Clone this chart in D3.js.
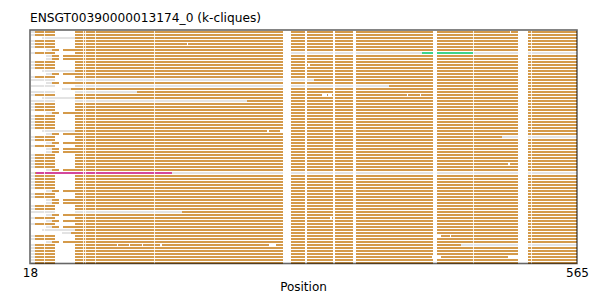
<!DOCTYPE html>
<html>
<head>
<meta charset="utf-8">
<script src="https://cdn.jsdelivr.net/npm/d3@7"></script>
<style>
  body { margin: 0; background: #fff; }
  svg text { font-family: "DejaVu Sans", sans-serif; fill: #000; }
</style>
</head>
<body>
<svg id="chart"></svg>
<script>
var width = 607;
var height = 294;

// one letter per sequence row, top to bottom (A: starts ~19, B: starts ~34, C: starts ~30, D: starts ~50, E: like A without the early gap)
var rowTypes = ["A","A","C","A","A","A","B","A","B","B",
                "A","A","A","C","B","A","A","B","A","D",
                "A","A","C","A","A","A","A","B","A","A",
                "A","A","A","C","B","A","A","B","A","B",
                "B","A","A","A","A","A","B","E","A","A",
                "A","A","A","B","A","A","B","B","A","A",
                "A","B","A","B","A","B","C","D","A","A",
                "B","A","A","A","A","A","A","A"];

// sequence start, clique start and gaps of each left pattern
var patternSeq = {A: 19, B: 34, C: 30, D: 50, E: 19};
var patternClique = {A: 23, B: 40, C: 63, D: 59, E: 23};
var patternGaps = {A: [[43, 63]], B: [[47, 51]], C: [], D: [], E: []};

var seqEnd = 565;

// alignment gaps shared by every row
var commonGaps = [[32,33],[71,72],[73,74],[83,84],[142,143],[271,279],[293,295],
                  [321,323],[341,344],[421,425],[461,462],[506,516],[519,520]];

// segments painted over the default clique colour: [row, from, to, kind]
var overrides = [
  [7, 279, 410, "none"], [7, 410, 461, "green"], [7, 461, 565, "none"],
  [16, 19, 302, "none"],
  [18, 19, 377, "none"],
  [20, 19, 125, "none"],
  [23, 19, 235, "none"],
  [35, 490, 565, "none"],
  [47, 24, 160, "magenta"], [47, 160, 565, "none"],
  [60, 19, 170, "none"],
  [71, 449, 565, "none"]
];

// a few row-specific gaps: [row, from, to]
var extraGaps = [
  [4, 175, 176], [11, 296, 298], [21, 310, 315], [21, 316, 320], [21, 395, 396], [21, 408, 409],
  [33, 255, 257], [33, 268, 271], [68, 421, 429], [68, 438, 439],
  [71, 105, 106], [71, 117, 118], [71, 130, 131], [71, 148, 150], [71, 257, 264],
  [75, 420, 429], [75, 496, 506], [0, 498, 499], [62, 318, 320], [44, 496, 498]
];

var xTicks = [18, 565];

var colors = {clique: "#d49a4a", none: "#e3e3e3", green: "#3dd48a", magenta: "#d4479b"};

var svg = d3.select('#chart')
    .attr('width', width)
    .attr('height', height);

var x = d3.scaleLinear()
    .domain([18, 565])
    .range([30, 577]);

var y = d3.scaleLinear()
    .domain([0, rowTypes.length - 1])
    .range([32, 263]);

var barH = 2;

function seg(g, row, from, to, color, op) {
    g.append('rect')
        .attr('x', x(from))
        .attr('y', y(row) - barH / 2)
        .attr('width', Math.max(0, x(to) - x(from)))
        .attr('height', barH)
        .attr('fill', color)
        .attr('fill-opacity', op == null ? 1 : op)
        .attr('shape-rendering', 'crispEdges');
}

var rowsG = svg.append('g');

rowTypes.forEach(function(t, i) {
    seg(rowsG, i, patternSeq[t], seqEnd, colors.none);
    seg(rowsG, i, patternClique[t], seqEnd, colors.clique);
});

overrides.forEach(function(o) {
    seg(rowsG, o[0], o[1], o[2], colors[o[3]]);
});

// thin one-position gaps come out a little softer, like the antialiased original
function gapOpacity(gp) {
    return (gp[1] - gp[0]) <= 1 ? 0.8 : 1;
}

rowTypes.forEach(function(t, i) {
    commonGaps.concat(patternGaps[t]).forEach(function(gp) {
        seg(rowsG, i, gp[0], gp[1], '#fff', gapOpacity(gp));
    });
});

extraGaps.forEach(function(gp) {
    seg(rowsG, gp[0], gp[1], gp[2], '#fff');
});

// frame
svg.append('rect')
    .attr('x', 30)
    .attr('y', 30)
    .attr('width', 547)
    .attr('height', 233.5)
    .attr('fill', 'none')
    .attr('stroke', '#000')
    .attr('stroke-opacity', 0.6)
    .attr('stroke-width', 1.6);

var xAxis = svg.append('g')
    .attr('transform', 'translate(0,264)')
    .call(d3.axisBottom(x).tickValues(xTicks).tickSize(0).tickPadding(4));
xAxis.select('.domain').remove();
xAxis.selectAll('text')
    .style('font-family', '"DejaVu Sans", sans-serif')
    .style('font-size', '12px')
    .attr('fill', '#000');

svg.append('text')
    .attr('x', 303.5)
    .attr('y', 291)
    .attr('text-anchor', 'middle')
    .style('font-size', '12px')
    .text('Position');

svg.append('text')
    .attr('x', 30)
    .attr('y', 22)
    .style('font-size', '12.2px')
    .text('ENSGT00390000013174_0 (k-cliques)');
</script>
</body>
</html>
